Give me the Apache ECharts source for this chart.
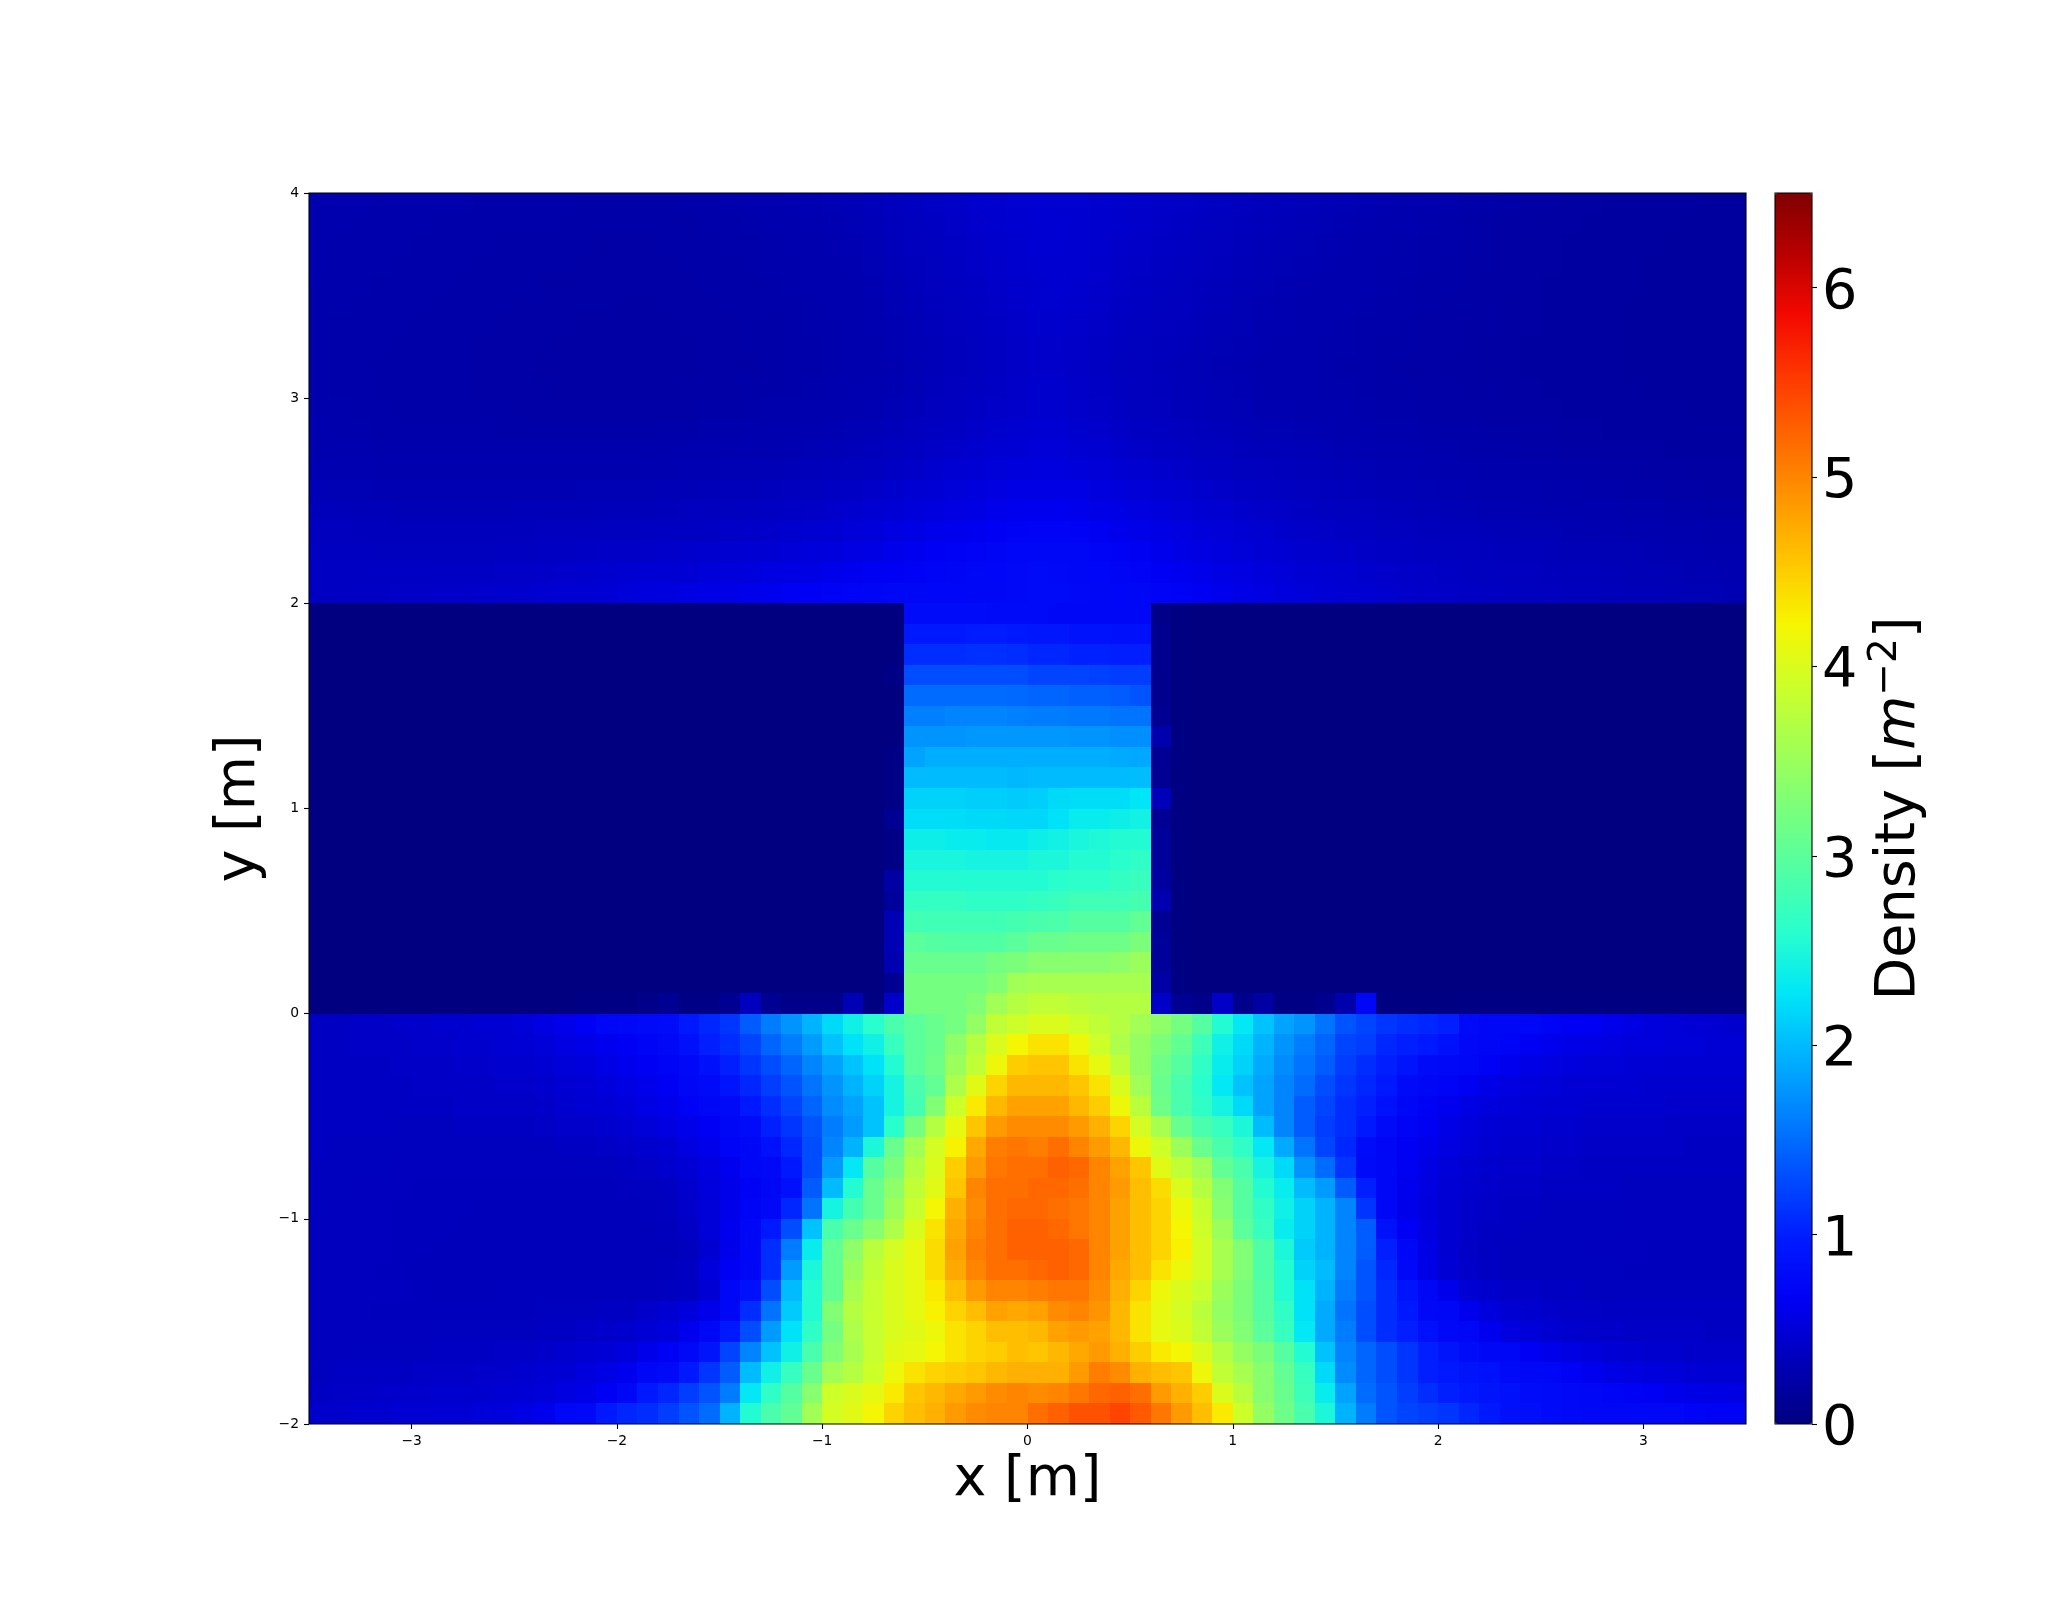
<!DOCTYPE html>
<html>
<head>
<meta charset="utf-8">
<title>Density</title>
<script src="https://cdn.jsdelivr.net/npm/echarts@6/dist/echarts.min.js"></script>
<style>
  body { margin: 0; background: #fff; }
  #chart { width: 2066px; height: 1600px; }
</style>
</head>
<body>
<div id="chart"></div>
<script>
// density, in 1/100 m^-2, 70 columns from x=-3.5, 0.1 m cells
// rows run from the top of the plot downwards
const densityAbove = [
  [26,26,26,25,25,25,25,25,24,24,24,24,24,23,23,23,23,23,24,24,25,26,27,28,29,30,31,33,35,37,39,41,43,44,45,46,45,45,44,43,42,41,40,38,37,35,34,33,32,31,30,29,28,27,26,25,24,23,22,21,21,20,20,19,19,18,18,18,17,17],
  [26,26,25,25,25,25,24,24,24,24,24,24,23,23,23,23,23,23,23,24,24,25,26,27,28,29,30,32,34,36,38,40,42,44,45,46,46,45,44,43,42,40,39,37,36,34,33,32,31,30,29,28,27,26,25,24,23,22,21,21,20,20,19,19,18,18,18,17,17,17],
  [26,25,25,25,25,24,24,24,24,23,23,23,23,23,22,22,22,23,23,23,24,24,25,26,27,28,29,31,33,35,37,39,41,43,44,46,46,45,44,42,41,39,38,36,35,33,32,31,30,29,28,27,26,25,24,24,23,22,21,20,20,19,19,18,18,18,17,17,17,17],
  [26,25,25,25,24,24,24,24,23,23,23,23,23,22,22,22,22,22,23,23,23,24,25,25,26,27,28,30,32,34,36,38,40,42,44,45,45,45,43,41,40,38,37,35,34,32,31,30,29,28,27,26,25,25,24,23,22,22,21,20,20,19,19,18,18,17,17,17,17,17],
  [25,25,25,24,24,24,24,23,23,23,23,22,22,22,22,22,22,22,22,23,23,23,24,25,26,26,27,29,31,33,35,37,39,41,43,44,45,44,42,40,39,37,36,34,33,31,30,29,28,27,26,26,25,24,23,23,22,21,21,20,19,19,18,18,18,17,17,17,17,17],
  [25,25,24,24,24,24,23,23,23,23,22,22,22,22,22,21,21,22,22,22,23,23,24,24,25,26,27,28,30,32,34,36,38,40,42,44,44,43,41,39,38,36,35,33,32,30,29,28,27,26,26,25,24,24,23,22,22,21,20,20,19,19,18,18,17,17,17,17,17,17],
  [25,24,24,24,24,23,23,23,23,22,22,22,22,21,21,21,21,21,22,22,22,23,23,24,25,25,26,28,29,31,33,35,37,39,41,43,43,42,40,38,37,35,34,32,31,30,28,28,27,26,25,24,24,23,22,22,21,21,20,20,19,18,18,18,17,17,17,17,17,17],
  [25,24,24,24,23,23,23,23,22,22,22,22,21,21,21,21,21,21,21,22,22,23,23,24,24,25,26,27,29,31,32,34,36,38,40,42,42,41,39,37,36,34,33,31,30,29,28,27,26,25,25,24,23,23,22,22,21,20,20,19,19,18,18,18,17,17,17,17,17,17],
  [25,24,24,23,23,23,23,23,22,22,22,21,21,21,21,21,21,21,21,22,22,22,23,24,24,25,26,27,28,30,32,34,36,38,40,42,42,40,38,36,35,33,32,31,29,28,27,26,26,25,24,24,23,22,22,21,21,20,20,19,19,18,18,18,17,17,17,17,17,17],
  [25,24,24,23,23,23,23,23,22,22,22,22,21,21,21,21,21,21,22,22,22,23,23,24,25,26,27,28,29,31,33,35,37,39,41,43,43,41,39,37,35,34,32,31,30,29,27,27,26,25,25,24,23,23,22,22,21,21,20,20,19,19,18,18,18,17,17,17,17,17],
  [25,25,24,24,23,23,23,23,23,23,22,22,22,22,22,22,22,22,22,23,23,24,25,25,26,27,28,29,31,33,35,37,39,41,42,44,44,42,40,38,36,35,33,32,31,30,28,28,27,26,26,25,24,24,23,22,22,21,21,20,20,19,19,18,18,18,18,17,17,17],
  [26,25,25,24,24,24,24,24,24,23,23,23,23,23,23,23,23,24,24,25,25,26,26,27,28,29,30,31,33,35,37,39,41,43,45,46,46,44,42,40,38,37,35,34,33,31,30,30,29,28,27,26,25,25,24,23,23,22,22,21,21,20,20,19,19,19,18,18,18,18],
  [27,26,26,25,25,25,25,25,25,25,25,25,25,25,25,25,25,26,26,27,27,28,28,29,30,31,32,34,36,38,40,42,44,46,48,49,49,47,45,43,41,39,38,36,35,33,32,32,31,30,29,28,27,27,26,25,24,24,23,22,22,21,21,20,20,20,19,19,19,19],
  [29,28,28,27,27,27,27,27,27,27,27,27,27,27,27,27,28,28,29,29,30,30,31,32,33,34,36,37,39,41,44,46,48,50,52,53,53,51,49,47,45,43,41,39,38,36,35,34,33,32,31,30,29,29,28,27,26,25,25,24,24,23,23,22,22,21,21,20,20,20],
  [31,30,30,29,29,29,29,29,29,29,29,29,29,30,30,30,30,31,31,32,33,33,34,35,36,38,39,41,43,46,48,50,52,54,56,57,57,56,53,51,49,47,45,43,41,39,38,37,35,34,33,32,31,31,30,29,28,27,26,26,25,25,24,24,23,23,22,22,21,21],
  [33,33,32,32,31,31,31,31,31,31,32,32,32,32,33,33,33,34,35,35,36,37,38,39,40,42,44,46,48,51,53,55,57,60,62,63,63,61,58,56,54,52,49,47,45,43,41,40,38,37,36,35,34,33,32,31,30,29,29,28,27,27,26,26,25,25,24,24,23,23],
  [35,35,34,34,34,34,34,34,34,34,34,35,35,35,36,36,37,38,38,39,40,41,42,44,45,47,49,51,54,57,59,61,63,66,68,69,69,67,64,61,59,56,54,51,49,47,45,43,41,40,39,38,36,35,34,33,33,32,31,30,30,29,28,28,27,27,26,26,25,25],
  [37,37,37,36,36,36,36,36,36,37,37,38,38,39,40,40,41,42,43,44,45,46,47,49,51,53,55,57,60,63,65,67,69,71,73,74,74,72,70,67,64,61,58,55,53,50,48,46,44,43,42,40,39,38,37,36,35,34,33,33,32,31,31,30,30,29,28,28,27,27],
  [38,38,38,38,38,38,39,39,39,40,40,41,42,43,44,45,46,47,48,50,51,52,54,55,57,60,62,64,66,68,70,71,72,73,75,76,75,74,73,71,69,66,63,60,57,54,52,50,48,46,45,43,42,41,40,38,37,36,35,35,34,33,33,32,31,31,30,29,29,28],
  [38,38,39,39,40,40,41,41,42,43,44,45,46,47,48,50,52,53,55,57,58,60,62,64,66,68,70,71,72,72,73,73,74,74,75,76,76,75,74,73,72,70,67,64,61,58,55,52,50,48,47,45,44,42,41,40,39,38,37,36,35,34,34,33,32,32,31,30,30,29]
];

const densityCorridor = [
  [0,0,0,0,0,0,0,0,0,0,0,0,0,0,0,0,0,0,0,0,0,0,0,0,0,0,0,0,0,80,80,80,80,78,76,76,74,72,72,72,72,5,1,0,0,0,0,0,0,0,0,0,0,0,0,0,0,0,0,0,0,0,0,0,0,0,0,0,0,0],
  [0,0,0,0,0,0,0,0,0,0,0,0,0,0,0,0,0,0,0,0,0,0,0,0,0,0,0,0,0,95,95,95,98,98,95,92,92,88,88,85,85,8,1,0,0,0,0,0,0,0,0,0,0,0,0,0,0,0,0,0,0,0,0,0,0,0,0,0,0,0],
  [0,0,0,0,0,0,0,0,0,0,0,0,0,0,0,0,0,0,0,0,0,0,0,0,0,0,0,0,0,110,110,110,112,112,110,105,105,102,102,100,100,8,1,0,0,0,0,0,0,0,0,0,0,0,0,0,0,0,0,0,0,0,0,0,0,0,0,0,0,0],
  [0,0,0,0,0,0,0,0,0,0,0,0,0,0,0,0,0,0,0,0,0,0,0,0,0,0,0,0,4,130,130,130,130,130,130,125,125,125,122,120,120,8,1,0,0,0,0,0,0,0,0,0,0,0,0,0,0,0,0,0,0,0,0,0,0,0,0,0,0,0],
  [0,0,0,0,0,0,0,0,0,0,0,0,0,0,0,0,0,0,0,0,0,0,0,0,0,0,0,0,0,150,150,150,150,150,148,145,145,142,142,140,135,8,1,0,0,0,0,0,0,0,0,0,0,0,0,0,0,0,0,0,0,0,0,0,0,0,0,0,0,0],
  [0,0,0,0,0,0,0,0,0,0,0,0,0,0,0,0,0,0,0,0,0,0,0,0,0,0,0,0,0,162,162,165,165,165,162,160,160,158,158,155,155,10,1,0,0,0,0,0,0,0,0,0,0,0,0,0,0,0,0,0,0,0,0,0,0,0,0,0,0,0],
  [0,0,0,0,0,0,0,0,0,0,0,0,0,0,0,0,0,0,0,0,0,0,0,0,0,0,0,0,0,175,175,175,178,178,178,178,178,175,175,172,172,25,1,0,0,0,0,0,0,0,0,0,0,0,0,0,0,0,0,0,0,0,0,0,0,0,0,0,0,0],
  [0,0,0,0,0,0,0,0,0,0,0,0,0,0,0,0,0,0,0,0,0,0,0,0,0,0,0,0,4,185,192,192,192,192,192,192,192,192,192,190,188,12,1,0,0,0,0,0,0,0,0,0,0,0,0,0,0,0,0,0,0,0,0,0,0,0,0,0,0,0],
  [0,0,0,0,0,0,0,0,0,0,0,0,0,0,0,0,0,0,0,0,0,0,0,0,0,0,0,0,4,200,200,200,200,200,198,200,200,200,200,200,202,10,1,0,0,0,0,0,0,0,0,0,0,0,0,0,0,0,0,0,0,0,0,0,0,0,0,0,0,0],
  [0,0,0,0,0,0,0,0,0,0,0,0,0,0,0,0,0,0,0,0,0,0,0,0,0,0,0,0,4,215,215,215,212,212,210,212,220,222,222,222,228,33,1,0,0,0,0,0,0,0,0,0,0,0,0,0,0,0,0,0,0,0,0,0,0,0,0,0,0,0],
  [0,0,0,0,0,0,0,0,0,0,0,0,0,0,0,0,0,0,0,0,0,0,0,0,0,0,0,0,10,222,222,222,220,220,218,218,225,235,235,238,242,12,1,0,0,0,0,0,0,0,0,0,0,0,0,0,0,0,0,0,0,0,0,0,0,0,0,0,0,0],
  [0,0,0,0,0,0,0,0,0,0,0,0,0,0,0,0,0,0,0,0,0,0,0,0,0,0,0,0,4,238,238,235,235,232,232,238,242,248,252,255,255,15,1,0,0,0,0,0,0,0,0,0,0,0,0,0,0,0,0,0,0,0,0,0,0,0,0,0,0,0],
  [0,0,0,0,0,0,0,0,0,0,0,0,0,0,0,0,0,0,0,0,0,0,0,0,0,0,0,0,4,248,248,248,245,245,245,250,250,255,255,260,265,15,1,0,0,0,0,0,0,0,0,0,0,0,0,0,0,0,0,0,0,0,0,0,0,0,0,0,0,0],
  [0,0,0,0,0,0,0,0,0,0,0,0,0,0,0,0,0,0,0,0,0,0,0,0,0,0,0,0,20,255,255,255,255,255,255,255,260,262,262,268,272,18,1,0,0,0,0,0,0,0,0,0,0,0,0,0,0,0,0,0,0,0,0,0,0,0,0,0,0,0],
  [0,0,0,0,0,0,0,0,0,0,0,0,0,0,0,0,0,0,0,0,0,0,0,0,0,0,0,0,15,268,268,268,265,265,265,268,272,278,278,278,282,28,1,0,0,0,0,0,0,0,0,0,0,0,0,0,0,0,0,0,0,0,0,0,0,0,0,0,0,0],
  [0,0,0,0,0,0,0,0,0,0,0,0,0,0,0,0,0,0,0,0,0,0,0,0,0,0,0,0,30,280,278,278,278,278,282,285,288,295,295,295,305,12,1,0,0,0,0,0,0,0,0,0,0,0,0,0,0,0,0,0,0,0,0,0,0,0,0,0,0,0],
  [0,0,0,0,0,0,0,0,0,0,0,0,0,0,0,0,0,0,0,0,0,0,0,0,0,0,0,0,30,300,295,292,292,292,300,310,310,315,315,315,325,15,1,0,0,0,0,0,0,0,0,0,0,0,0,0,0,0,0,0,0,0,0,0,0,0,0,0,0,0],
  [0,0,0,0,0,0,0,0,0,0,0,0,0,0,0,0,0,0,0,0,0,0,0,0,0,0,0,0,28,310,310,310,310,320,325,335,335,335,335,340,350,15,1,0,0,0,0,0,0,0,0,0,0,0,0,0,0,0,0,0,0,0,0,0,0,0,0,0,0,0],
  [0,0,0,0,0,0,0,0,0,0,0,0,0,0,0,0,0,0,0,0,0,0,0,0,0,0,0,0,10,320,320,320,320,330,355,360,360,360,360,360,360,22,1,0,0,0,0,0,0,0,0,0,0,0,0,0,0,0,0,0,0,0,0,0,0,0,0,0,0,0],
  [0,0,0,0,0,0,0,0,0,0,0,0,0,3,3,3,5,10,4,4,10,35,10,5,5,5,30,1,42,320,320,320,330,355,370,380,380,375,370,370,370,40,10,5,40,7,20,2,2,8,25,72,1,1,1,1,2,2,2,1,1,1,1,1,1,1,1,1,1,1]
];

const densityBelow = [
  [38,38,40,40,42,42,44,44,46,46,50,55,60,66,72,75,78,80,95,105,115,140,160,175,195,220,240,260,285,300,310,320,345,380,390,400,400,390,380,370,355,340,320,295,255,230,205,185,175,155,135,125,115,110,105,100,78,74,72,72,70,66,64,60,56,52,50,48,46,44],
  [38,38,40,40,40,42,42,44,44,46,48,50,55,58,63,66,70,75,85,100,110,125,145,160,180,205,225,240,270,300,310,340,370,400,420,435,435,415,390,365,345,325,305,275,240,220,195,175,160,145,125,120,105,100,95,85,75,72,70,66,62,58,56,54,52,52,50,50,48,48],
  [38,38,38,38,40,40,40,42,42,44,44,46,50,52,56,62,66,70,75,85,100,115,130,145,165,185,205,225,255,300,315,350,380,415,450,455,455,435,410,380,345,315,295,265,235,215,190,170,155,140,120,110,100,90,78,75,72,68,62,58,54,52,50,50,48,48,46,46,46,46],
  [38,38,38,38,38,40,40,40,40,42,42,44,46,48,52,56,60,66,72,78,90,105,120,135,155,175,195,215,245,285,305,365,405,445,465,465,465,455,435,400,355,310,285,260,230,205,185,165,150,130,115,105,95,78,74,70,64,58,54,52,50,48,48,46,46,44,44,44,44,44],
  [38,38,38,38,38,38,38,40,40,40,40,42,44,46,48,52,56,60,68,72,76,95,110,125,145,170,185,205,245,280,330,390,430,465,480,480,480,465,450,415,375,315,285,265,245,220,185,165,140,125,110,100,85,72,68,62,56,52,50,48,46,46,44,44,44,44,42,42,42,42],
  [38,38,38,38,36,36,36,38,38,38,38,40,42,42,44,46,50,54,60,66,72,80,100,115,135,160,180,205,260,320,370,410,455,485,495,495,495,485,470,445,395,360,310,285,270,250,200,165,140,120,110,95,76,70,64,58,52,48,46,46,44,44,42,42,42,42,40,40,40,40],
  [38,36,36,36,36,36,36,36,36,36,36,36,38,38,40,42,44,48,54,60,70,74,85,105,130,165,195,250,310,355,395,425,475,505,510,505,515,500,485,465,415,390,350,310,285,265,230,190,155,125,105,80,72,66,60,54,50,46,44,44,42,42,40,40,40,40,40,38,38,38],
  [36,36,36,36,35,35,35,35,35,35,35,35,35,36,36,38,40,44,48,54,62,72,75,95,130,180,230,295,325,370,400,450,485,510,515,515,525,520,500,480,455,405,380,355,305,285,245,220,175,150,115,78,72,64,56,50,46,44,42,42,40,40,38,38,38,38,38,38,38,38],
  [36,36,35,35,35,34,34,34,34,34,34,34,34,34,34,35,36,38,44,52,60,68,74,85,140,200,255,310,340,380,405,455,500,515,515,520,520,515,500,485,460,440,400,370,330,295,255,235,200,180,140,100,72,62,54,48,44,42,40,40,38,38,38,38,36,36,36,36,36,36],
  [36,35,35,35,34,34,34,34,33,33,33,33,33,33,33,33,34,36,42,50,60,70,75,105,155,245,280,310,350,385,420,470,495,515,520,520,515,510,500,480,460,445,415,385,335,295,265,240,215,195,165,115,72,60,52,46,42,40,38,38,36,36,36,36,35,35,35,35,35,35],
  [35,35,35,35,34,34,34,33,33,33,33,33,33,33,33,33,33,34,40,50,62,72,95,130,205,285,310,335,365,400,435,475,500,515,525,525,520,510,500,480,460,445,420,390,350,300,270,235,215,195,165,140,85,66,54,46,42,38,38,36,36,36,36,36,35,35,35,35,35,35],
  [35,35,35,35,34,34,33,33,33,33,33,33,33,33,33,33,33,33,36,46,60,72,110,160,235,305,340,375,395,410,440,480,505,515,525,525,525,520,500,480,460,445,425,395,360,330,290,250,210,195,165,140,100,72,56,46,40,38,36,36,36,36,35,35,35,34,34,34,34,34],
  [35,35,35,34,34,33,33,33,33,33,33,33,33,33,33,33,33,34,38,52,65,72,110,180,250,305,350,380,400,410,440,475,500,515,515,520,525,520,500,475,460,435,415,395,360,330,290,255,215,200,165,135,105,75,58,48,42,38,36,36,36,36,36,36,34,34,34,34,34,34],
  [35,35,35,35,35,34,33,33,33,34,34,34,34,34,34,34,34,36,38,48,72,85,130,200,255,305,360,385,400,410,430,460,485,500,500,505,510,510,495,470,445,415,400,385,350,325,295,255,225,195,160,135,110,90,72,60,48,44,40,40,38,38,36,36,36,36,36,36,36,36],
  [35,35,35,34,34,34,34,34,34,34,34,36,36,36,38,38,42,46,52,60,72,110,155,210,255,330,370,385,400,410,425,445,460,480,475,480,495,500,490,465,435,410,395,375,345,325,295,265,225,190,155,130,110,95,75,72,62,52,46,44,42,40,40,38,38,38,38,38,38,38],
  [35,35,35,35,35,35,36,36,36,36,36,38,38,40,42,44,48,52,62,72,95,130,180,225,265,320,365,385,400,405,415,435,445,460,460,465,480,485,480,465,435,410,400,380,350,330,300,270,230,190,160,130,110,100,85,75,72,62,54,50,46,44,42,42,40,40,40,40,38,38],
  [35,35,36,36,36,36,38,38,38,40,40,42,44,46,48,52,60,68,75,90,125,165,205,240,285,330,360,385,405,410,420,435,445,450,460,455,465,475,485,470,450,430,420,400,370,345,325,295,255,205,165,145,130,115,100,90,80,74,72,66,60,56,52,48,46,44,44,42,42,42],
  [36,38,38,38,38,40,40,40,42,42,44,46,48,52,56,62,72,78,95,115,140,200,240,270,310,355,370,390,415,435,445,450,455,465,470,470,470,485,505,495,470,460,455,415,380,360,335,305,270,220,170,145,130,115,100,95,90,85,78,74,72,68,62,56,54,52,50,48,46,46],
  [38,40,40,42,42,42,44,44,44,46,48,50,54,58,66,72,95,105,120,135,160,230,265,295,335,390,400,410,430,455,465,475,485,495,500,495,500,510,520,525,515,485,470,450,400,375,335,310,275,235,185,150,135,120,110,100,95,90,85,80,78,75,72,70,68,66,60,58,56,55],
  [42,42,44,44,46,46,48,48,50,52,56,62,72,75,95,105,110,120,135,150,195,255,285,305,355,395,405,420,445,460,470,485,495,500,500,515,525,535,535,545,530,510,485,460,430,390,345,315,285,250,195,160,135,125,120,115,105,95,85,82,78,75,72,72,72,72,72,70,68,68]
];

const xTicks = [-3, -2, -1, 0, 1, 2, 3];
const yTicks = [-2, -1, 0, 1, 2, 3, 4];
const colorbarTicks = [0, 1, 2, 3, 4, 5, 6];
const jetColors = ['#000080','#0000b9','#0000f4','#001aff','#004cff','#0080ff','#00b3ff','#00e6f7','#29ffcd','#52ffa4','#7bff7b','#a4ff52','#cdff29','#f7f500','#ffc600','#ff9700','#ff6800','#ff3900','#f40900','#b90000','#800000'];

const cellSize = 0.1;
const xMin = -3.5;
const yMax = 4;
const densityMax = 6.5;

const cells = [];
;[...densityAbove, ...densityCorridor, ...densityBelow].forEach((row, r) => {
  row.forEach((value, c) => {
    cells.push([xMin + c * cellSize, yMax - (r + 1) * cellSize, value / 100]);
  });
});

const minusLabel = (v) => String(v).replace('-', '\u2212');
const bigFont = 55.6;
const smallFont = 13.9;

const chart = echarts.init(document.getElementById('chart'), null, { renderer: 'canvas' });
chart.setOption({
  animation: false,
  backgroundColor: '#fff',
  textStyle: { fontFamily: 'DejaVu Sans', color: '#000' },
  grid: [
    { left: 309, top: 193, width: 1437, height: 1231, show: true, z: 5, borderColor: '#000', borderWidth: 1.1, backgroundColor: 'transparent' },
    { left: 1775, top: 193, width: 37, height: 1231, show: true, z: 5, borderColor: '#000', borderWidth: 1.1, backgroundColor: 'transparent' },
  ],
  xAxis: [
    {
      type: 'value', gridIndex: 0, min: -3.5, max: 3.5,
      name: 'x [m]', nameLocation: 'middle', nameGap: 29,
      nameTextStyle: { fontSize: bigFont, color: '#000', fontFamily: 'DejaVu Sans' },
      splitLine: { show: false },
      axisLine: { show: false, onZero: false },
      axisTick: { show: true, length: 5, lineStyle: { color: '#000', width: 1.1 }, customValues: xTicks },
      axisLabel: { fontSize: smallFont, color: '#000', margin: 10, formatter: minusLabel, customValues: xTicks },
    },
    { type: 'value', gridIndex: 1, min: 0, max: 1, show: false },
  ],
  yAxis: [
    {
      type: 'value', gridIndex: 0, min: -2, max: 4,
      name: 'y [m]', nameLocation: 'middle', nameGap: 29, nameRotate: 90,
      nameTextStyle: { fontSize: bigFont, color: '#000', fontFamily: 'DejaVu Sans' },
      splitLine: { show: false },
      axisLine: { show: false, onZero: false },
      axisTick: { show: true, length: 5, lineStyle: { color: '#000', width: 1.1 }, customValues: yTicks },
      axisLabel: { fontSize: smallFont, color: '#000', margin: 10, formatter: minusLabel, customValues: yTicks },
    },
    {
      type: 'value', gridIndex: 1, min: 0, max: densityMax, position: 'right',
      name: '{n|Density [}{i|m}{s|\u22122}{n|]}', nameLocation: 'middle', nameGap: 54, nameRotate: 90,
      nameTextStyle: {
        rich: {
          n: { fontSize: bigFont, fontFamily: 'DejaVu Sans', color: '#000' },
          i: { fontSize: bigFont, fontFamily: 'DejaVu Sans', fontStyle: 'italic', color: '#000' },
          s: { fontSize: 39, fontFamily: 'DejaVu Sans', color: '#000', verticalAlign: 'top', padding: [0, 0, 28, 0] },
        },
      },
      splitLine: { show: false },
      axisLine: { show: false, onZero: false },
      axisTick: { show: true, length: 5, lineStyle: { color: '#000', width: 1.1 }, customValues: colorbarTicks },
      axisLabel: { fontSize: bigFont, color: '#000', margin: 10, verticalAlign: 'top', lineHeight: 11, customValues: colorbarTicks },
    },
  ],
  visualMap: {
    type: 'continuous',
    seriesIndex: 0,
    dimension: 2,
    min: 0,
    max: densityMax,
    left: 1775,
    top: 193,
    padding: 0,
    itemWidth: 37,
    itemHeight: 1231,
    calculable: false,
    hoverLink: false,
    realtime: false,
    text: null,
    showLabel: false,
    inRange: { color: jetColors },
  },
  series: [
    {
      type: 'custom',
      xAxisIndex: 0,
      yAxisIndex: 0,
      silent: true,
      progressive: 0,
      encode: { x: 0, y: 1 },
      data: cells,
      renderItem: (params, api) => {
        const p0 = api.coord([api.value(0), api.value(1) + cellSize]);
        const p1 = api.coord([api.value(0) + cellSize, api.value(1)]);
        const x0 = Math.round(p0[0]);
        const y0 = Math.round(p0[1]);
        return {
          type: 'rect',
          shape: { x: x0, y: y0, width: Math.round(p1[0]) - x0, height: Math.round(p1[1]) - y0 },
          style: { fill: api.visual('color') },
        };
      },
    },
  ],
});
</script>
</body>
</html>
